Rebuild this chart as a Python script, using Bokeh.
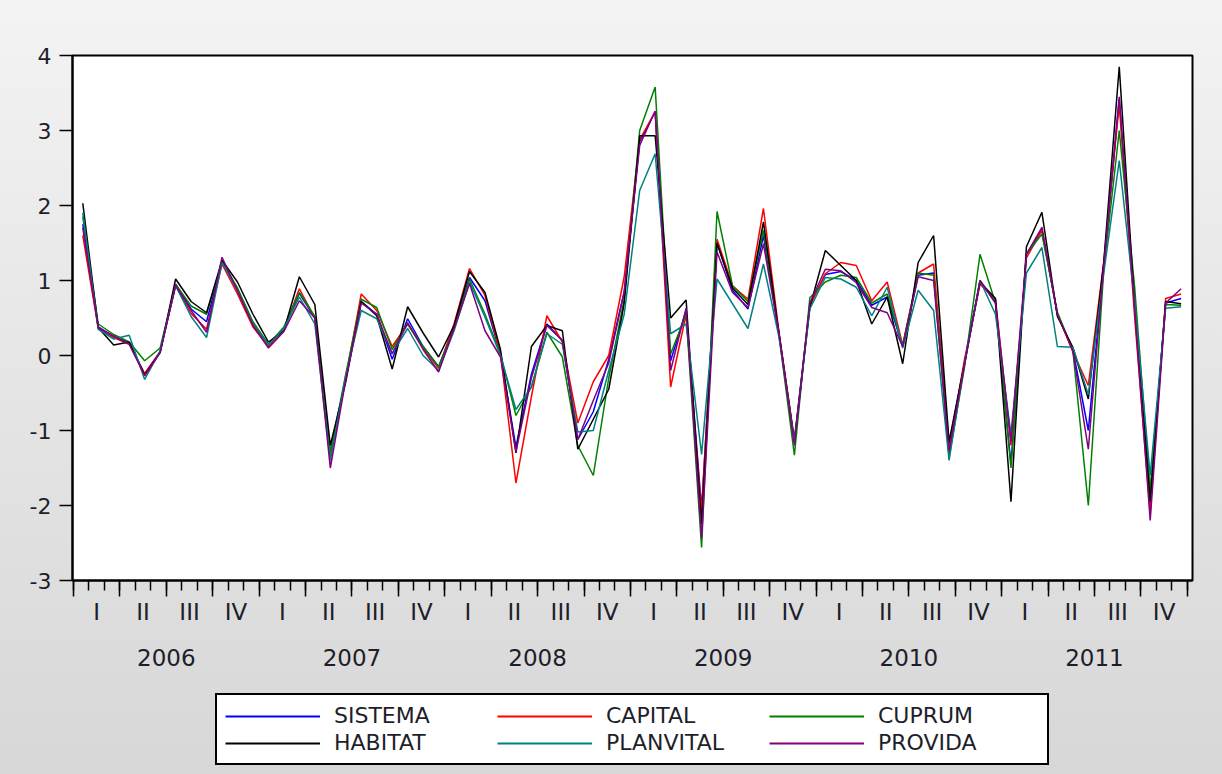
from bokeh.plotting import figure
from bokeh.models import (Range1d, FixedTicker, LinearAxis, Legend, LegendItem)
from bokeh.layouts import column
from bokeh.embed import file_html
from bokeh.resources import INLINE

# ---- data (monthly, Jan 2006 .. Dec 2011) ----
months = list(range(72))
year_labels = ["2006", "2007", "2008", "2009", "2010", "2011"]
quarter_labels = ["I", "II", "III", "IV"]
y_ticks = [-3, -2, -1, 0, 1, 2, 3, 4]

sistema = [1.75, 0.38, 0.25, 0.17, -0.25, 0.05, 0.95, 0.62, 0.45, 1.26, 0.88, 0.42,
           0.13, 0.35, 0.83, 0.50, -1.30, -0.30, 0.72, 0.55, -0.05, 0.49, 0.12, -0.15,
           0.38, 1.04, 0.73, 0.02, -1.22, -0.25, 0.42, 0.20, -1.12, -0.75, -0.05, 0.85,
           2.85, 3.25, -0.07, 0.60, -2.05, 1.50, 0.87, 0.62, 1.60, 0.30, -1.13, 0.68,
           1.08, 1.12, 1.00, 0.67, 0.78, 0.12, 1.07, 1.10, -1.20, -0.10, 1.00, 0.70,
           -1.45, 1.35, 1.68, 0.55, 0.08, -1.00, 1.20, 3.42, 0.65, -1.85, 0.70, 0.76]
capital = [1.60, 0.36, 0.24, 0.15, -0.24, 0.05, 0.93, 0.56, 0.35, 1.22, 0.82, 0.38,
           0.12, 0.34, 0.89, 0.50, -1.33, -0.30, 0.82, 0.60, 0.12, 0.42, 0.10, -0.17,
           0.42, 1.16, 0.80, 0.03, -1.70, -0.55, 0.53, 0.18, -0.90, -0.35, 0.00, 1.05,
           2.88, 3.25, -0.42, 0.55, -2.10, 1.55, 0.93, 0.75, 1.96, 0.32, -1.12, 0.66,
           1.09, 1.24, 1.20, 0.73, 0.98, 0.14, 1.10, 1.22, -1.25, -0.05, 0.95, 0.75,
           -1.20, 1.30, 1.67, 0.55, 0.05, -0.40, 1.25, 3.35, 0.50, -2.10, 0.76, 0.82]
cuprum = [1.85, 0.42, 0.28, 0.18, -0.07, 0.10, 0.95, 0.66, 0.55, 1.25, 0.90, 0.45,
          0.15, 0.38, 0.84, 0.52, -1.30, -0.25, 0.75, 0.64, 0.08, 0.42, 0.12, -0.15,
          0.35, 1.02, 0.55, 0.02, -0.80, -0.42, 0.31, -0.02, -1.20, -1.60, -0.30, 0.75,
          3.00, 3.58, 0.02, 0.55, -2.56, 1.92, 0.93, 0.72, 1.67, 0.28, -1.33, 0.77,
          0.98, 1.07, 1.04, 0.70, 0.82, 0.13, 1.10, 1.07, -1.35, -0.15, 1.35, 0.70,
          -1.50, 1.35, 1.62, 0.58, 0.07, -2.00, 1.15, 3.00, 0.90, -1.80, 0.68, 0.67]
habitat = [2.03, 0.37, 0.14, 0.18, -0.26, 0.04, 1.02, 0.72, 0.57, 1.27, 0.98, 0.55,
           0.18, 0.33, 1.05, 0.68, -1.20, -0.35, 0.72, 0.53, -0.18, 0.65, 0.30, -0.02,
           0.40, 1.12, 0.84, 0.08, -1.30, 0.12, 0.40, 0.33, -1.25, -0.85, -0.45, 0.70,
           2.93, 2.93, 0.50, 0.74, -2.25, 1.50, 0.90, 0.68, 1.78, 0.30, -1.15, 0.64,
           1.40, 1.20, 1.00, 0.42, 0.78, -0.11, 1.24, 1.60, -1.15, -0.10, 0.98, 0.76,
           -1.95, 1.45, 1.91, 0.52, 0.11, -0.58, 1.25, 3.85, 0.65, -1.95, 0.72, 0.69]
planvital = [1.90, 0.35, 0.22, 0.27, -0.32, 0.06, 0.93, 0.52, 0.24, 1.24, 0.86, 0.42,
             0.14, 0.36, 0.78, 0.42, -1.40, -0.27, 0.60, 0.49, 0.03, 0.36, 0.00, -0.20,
             0.33, 0.98, 0.51, 0.00, -0.72, -0.42, 0.29, 0.15, -1.02, -1.00, -0.20, 0.55,
             2.20, 2.69, 0.29, 0.42, -1.32, 1.02, 0.69, 0.36, 1.22, 0.25, -1.15, 0.62,
             1.04, 1.02, 0.91, 0.53, 0.91, 0.10, 0.87, 0.60, -1.40, -0.10, 1.00, 0.55,
             -1.05, 1.10, 1.44, 0.12, 0.11, -0.52, 1.10, 2.60, 0.70, -1.60, 0.63, 0.65]
provida = [1.70, 0.37, 0.26, 0.15, -0.27, 0.04, 0.94, 0.60, 0.31, 1.31, 0.86, 0.40,
           0.10, 0.32, 0.73, 0.50, -1.50, -0.32, 0.70, 0.55, 0.02, 0.44, 0.08, -0.22,
           0.36, 0.96, 0.33, -0.02, -1.28, -0.30, 0.40, 0.20, -1.12, -0.60, -0.10, 0.85,
           2.80, 3.26, -0.20, 0.63, -2.44, 1.38, 0.84, 0.64, 1.49, 0.30, -1.20, 0.70,
           1.15, 1.13, 0.97, 0.64, 0.57, 0.12, 1.05, 1.00, -1.27, -0.12, 1.00, 0.70,
           -1.15, 1.35, 1.71, 0.55, 0.06, -1.25, 1.20, 3.45, 0.60, -2.20, 0.70, 0.89]

series_names = ["SISTEMA", "CAPITAL", "CUPRUM", "HABITAT", "PLANVITAL", "PROVIDA"]
series_values = [sistema, capital, cuprum, habitat, planvital, provida]
series_colors = ["#0000ff", "#ff0000", "#008000", "#000000", "#008080", "#800080"]

# observation position within each month slot
x = [m + 0.6 for m in months]

FONT = "DejaVu Sans"
TXT = "#1e1e2a"

# ---------------- main chart ----------------
p = figure(width=1222, height=690, output_backend="svg", toolbar_location=None,
           x_range=Range1d(-0.065, 72.335), y_range=Range1d(-3, 4),
           x_axis_location=None, y_axis_location=None,
           min_border_left=72, min_border_right=30, min_border_top=55,
           min_border_bottom=110,
           background_fill_color="white", border_fill_color=None,
           outline_line_color="black", outline_line_width=2,
           styles={"background": "linear-gradient(to bottom, #f3f3f3, #dadada)"})
p.xgrid.visible = False
p.ygrid.visible = False

yax = LinearAxis(ticker=FixedTicker(ticks=y_ticks, minor_ticks=[]),
                 major_label_overrides={t: str(t) for t in y_ticks},
                 axis_line_color="black", axis_line_width=2,
                 major_tick_out=13, major_tick_in=0, major_tick_line_width=1.5,
                 major_label_standoff=8,
                 major_label_text_font=FONT, major_label_text_font_size="22px",
                 major_label_text_color=TXT)
p.add_layout(yax, "left")

q_bounds = list(range(0, 73, 3))
xax = LinearAxis(ticker=FixedTicker(ticks=q_bounds, minor_ticks=list(range(73))),
                 major_label_overrides={t: "" for t in q_bounds},
                 axis_line_color="black", axis_line_width=2,
                 major_tick_out=16, major_tick_in=0, major_tick_line_width=1.5,
                 minor_tick_out=10, minor_tick_in=0, minor_tick_line_width=1.5,
                 major_label_standoff=0, major_label_text_font_size="1px")
p.add_layout(xax, "below")

q_centers = [3 * k + 1.5 for k in range(24)]
qax = LinearAxis(ticker=FixedTicker(ticks=q_centers, minor_ticks=[]),
                 major_label_overrides={c: quarter_labels[k % 4] for k, c in enumerate(q_centers)},
                 axis_line_color=None, major_tick_line_color=None,
                 major_tick_out=0, major_tick_in=0,
                 major_label_standoff=2,
                 major_label_text_font=FONT, major_label_text_font_size="23px",
                 major_label_text_color=TXT)
p.add_layout(qax, "below")

y_centers = [12 * k + 6 for k in range(6)]
yrax = LinearAxis(ticker=FixedTicker(ticks=y_centers, minor_ticks=[]),
                  major_label_overrides={c: year_labels[k] for k, c in enumerate(y_centers)},
                  axis_line_color=None, major_tick_line_color=None,
                  major_tick_out=0, major_tick_in=0,
                  major_label_standoff=21,
                  major_label_text_font=FONT, major_label_text_font_size="23px",
                  major_label_text_color=TXT)
p.add_layout(yrax, "below")

for vals, col in zip(series_values, series_colors):
    p.line(x, vals, line_color=col, line_width=1.5)

# ---------------- legend strip ----------------
q = figure(width=1222, height=84, output_backend="svg", toolbar_location=None,
           x_range=Range1d(0, 1), y_range=Range1d(0, 1),
           x_axis_location=None, y_axis_location=None,
           min_border_left=0, min_border_right=0, min_border_top=0,
           min_border_bottom=0,
           background_fill_color=None, border_fill_color=None,
           outline_line_color=None,
           styles={"background": "linear-gradient(to bottom, #dadada, #d7d7d7)"})
q.xgrid.visible = False
q.ygrid.visible = False

items = []
for name, vals, col in zip(series_names, series_values, series_colors):
    # series kept off the visible range of this strip; only its legend glyph shows
    r = q.line(x, vals, line_color=col, line_width=1.8)
    items.append(LegendItem(label=name, renderers=[r]))

legend = Legend(items=items, location=(143, 9), orientation="horizontal", ncols=3,
                glyph_width=95, glyph_height=20, label_standoff=14,
                label_width=161, label_height=20, spacing=2, padding=8,
                border_line_color="black", border_line_width=2, border_line_alpha=1,
                background_fill_color="white", background_fill_alpha=1,
                label_text_font=FONT, label_text_font_size="22px",
                label_text_color=TXT)
q.add_layout(legend, "center")

layout = column(p, q, spacing=0)
open("out.html", "w").write(file_html(layout, INLINE))
